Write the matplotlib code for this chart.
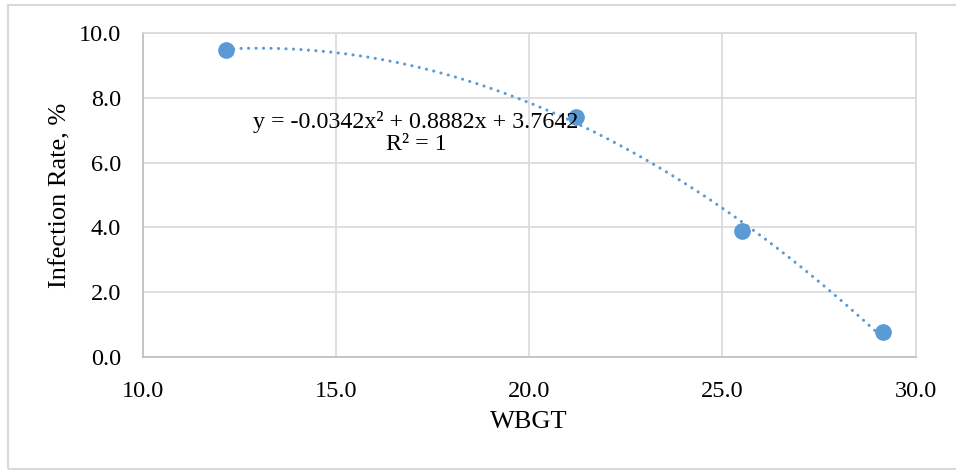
import numpy as np
import matplotlib.pyplot as plt
from matplotlib.patches import Rectangle

# data
wbgt = [12.15, 21.2, 25.5, 29.15]
infection = [9.48, 7.42, 3.9, 0.77]
# polynomial trendline coefficients (as shown on the chart)
coef = [-0.0342, 0.8882, 3.7642]
eq_text = "y = -0.0342x² + 0.8882x + 3.7642\nR² = 1"

xticks = [10.0, 15.0, 20.0, 25.0, 30.0]
yticks = [0.0, 2.0, 4.0, 6.0, 8.0, 10.0]

plt.rcParams['font.family'] = ['Liberation Serif', 'DejaVu Serif']

blue = '#5B9BD5'
grid = '#D9D9D9'

fig = plt.figure(figsize=(9.56, 4.70), dpi=100)
ax = fig.add_axes([143/956, 1-357/470, (915.5-143)/956, (357-33)/470])

# outer chart border
fig.patches.append(Rectangle((8/956, 1-469/470), 1.2, (469-5)/470,
                             transform=fig.transFigure, fill=False,
                             edgecolor=grid, lw=1.5))

# trendline over data range
xs = np.linspace(min(wbgt), max(wbgt), 200)
ax.plot(xs, np.polyval(coef, xs), color=blue, lw=2.2,
        linestyle=(0, (0.05, 2.4)), dash_capstyle='round', zorder=3)
ax.plot(wbgt, infection, 'o', color=blue, ms=11, zorder=4)

ax.set_xlim(10, 30)
ax.set_ylim(0, 10)
ax.set_xticks(xticks)
ax.set_yticks(yticks)
ax.set_xticklabels([f"{v:.1f}" for v in xticks])
ax.set_yticklabels([f"{v:.1f}" for v in yticks])
ax.tick_params(length=0, labelsize=17.5)
ax.tick_params(axis='x', pad=17)
ax.tick_params(axis='y', pad=16)
ax.grid(True, color=grid, lw=1.2)
ax.set_axisbelow(True)
for s in ax.spines.values():
    s.set_color(grid)
    s.set_linewidth(1.2)
ax.spines['left'].set_color('#BFBFBF')
ax.spines['bottom'].set_color('#BFBFBF')

ax.set_xlabel("WBGT", fontsize=19, labelpad=7)
ax.set_ylabel("Infection Rate, %", fontsize=19, labelpad=5)

ax.text(17.07, 6.91, eq_text, fontsize=17.3, ha='center', va='center',
        linespacing=1.05, zorder=5)

fig.savefig("out.png", dpi=100)
